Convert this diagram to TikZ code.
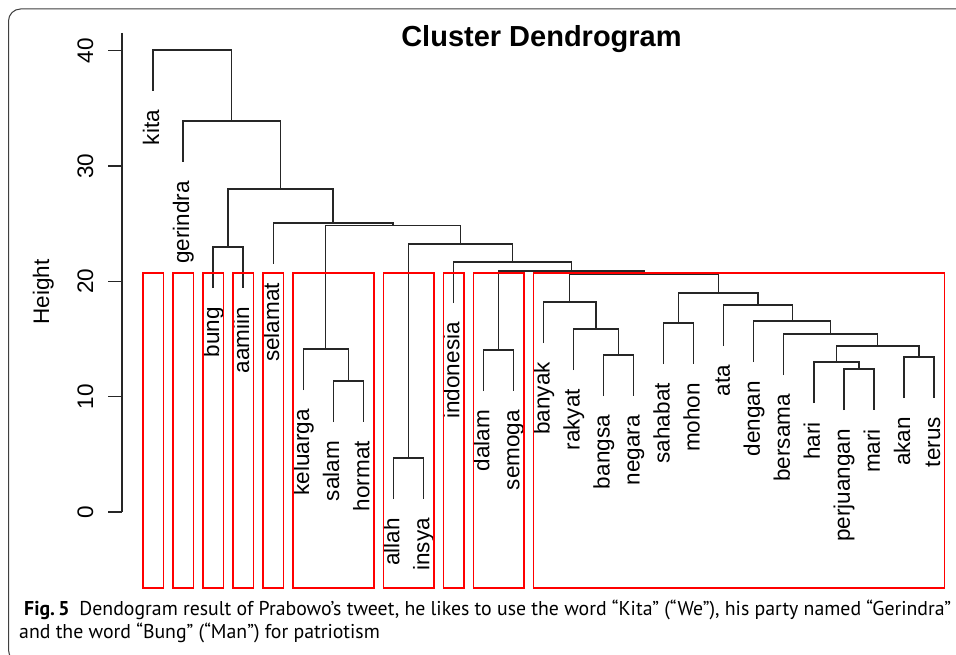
\documentclass[tikz,border=0pt]{standalone}
\usepackage{fontspec}
\setmainfont{Liberation Sans}
\newfontfamily\capfont{PT Sans}
\usepackage{graphicx}
\newlength\capwd
\newcommand\capone{\fontsize{20}{24}\capfont\textbf{Fig.\,5}\enspace Dendogram result of Prabowo’s tweet, he likes to use the word “Kita” (“We”), his party named “Gerindra”}
\newcommand\captwo{\fontsize{20}{24}\capfont and the word “Bung” (“Man”) for patriotism}
\begin{document}
\settowidth\capwd{\capone}%
\pgfmathsetmacro\capsx{927/\capwd}%
\begin{tikzpicture}[x=1pt,y=-1pt,
  dend/.style={draw=black!85, line width=1.3pt},
  axisline/.style={draw=black!85, line width=1.3pt},
  clbox/.style={draw=red, line width=1.5pt},
  framebox/.style={draw=black!75, line width=1pt, rounded corners=12pt},
  leaflab/.style={rotate=90, anchor=base east, inner sep=0pt, font=\fontsize{22.5}{24}\selectfont},
  ticklab/.style={rotate=90, anchor=base, inner sep=0pt, font=\fontsize{22.5}{24}\selectfont},
  caplab/.style={anchor=base west, inner sep=0pt},
]
\useasboundingbox (0,0) rectangle (956,655);
\clip (0,0) rectangle (956,655);
\fill[white] (0,0) rectangle (956,655);
% frame
\draw[framebox] (8.5,9) rectangle (1000,662);

% title
\node[anchor=base, inner sep=0pt, font=\fontsize{29}{32}\selectfont\bfseries] (title) at (541.5,47) {Cluster Dendrogram};

% y axis
\draw[axisline] (122,33) -- (122,512);
\foreach \h in {0,10,20,30,40} {
  \draw[axisline] (108,{512-11.53*\h}) -- (122,{512-11.53*\h});
  \node[ticklab] (tick\h) at (93,{512-11.53*\h}) {\h};
}
\node[ticklab] (ylab) at (49,292) {Height};

% leaves
\foreach \i/\w/\p in {1/kita/50, 2/gerindra/121, 3/bung/247, 4/aamiin/247,
  5/selamat/223, 6/keluarga/349, 7/salam/381, 8/hormat/381, 9/allah/458,
  10/insya/458, 11/indonesia/262, 12/dalam/350, 13/semoga/350, 14/banyak/302,
  15/rakyat/329, 16/bangsa/355, 17/negara/355, 18/sahabat/323, 19/mohon/323,
  20/ata/305, 21/dengan/321, 22/bersama/334, 23/hari/362, 24/perjuangan/369,
  25/mari/369, 26/akan/357, 27/terus/357} {
  \coordinate (L\i) at ({153+(\i-1)*30.04},{\p+41});
  \node[leaflab] (T\i) at ([xshift=6pt,yshift=-19pt]L\i) {\w};
}

% merge points
\coordinate (R)  at (192.41,50);
\coordinate (A)  at (231.82,121);
\coordinate (B)  at (280.6,189);
\coordinate (C)  at (228.1,247);
\coordinate (D1) at (333.1,223);
\coordinate (D2) at (393.04,225.5);
\coordinate (K)  at (325.73,349);
\coordinate (SH) at (348.26,381);
\coordinate (E)  at (460.34,244);
\coordinate (AI) at (408.34,458);
\coordinate (E2) at (512.34,262);
\coordinate (F)  at (571.28,271);
\coordinate (DS) at (498.46,350);
\coordinate (G)  at (644.09,274);
\coordinate (BY) at (569.81,302);
\coordinate (RK) at (596.09,329);
\coordinate (BN) at (618.62,355);
\coordinate (H)  at (718.37,293);
\coordinate (SM) at (678.7,323);
\coordinate (I)  at (758.03,305);
\coordinate (J)  at (792.29,321);
\coordinate (Kq) at (830.78,334);
\coordinate (Lq) at (877.72,346);
\coordinate (Mq) at (836.41,362);
\coordinate (PM) at (858.94,369);
\coordinate (AT) at (919.02,357);

\foreach \m/\a/\b in {R/L1/A, A/L2/B, B/C/D1, C/L3/L4, D1/L5/D2, D2/K/E,
  K/L6/SH, SH/L7/L8, E/AI/E2, AI/L9/L10, E2/L11/F, F/DS/G, DS/L12/L13,
  G/BY/H, BY/L14/RK, RK/L15/BN, BN/L16/L17, H/SM/I, SM/L18/L19, I/L20/J,
  J/L21/Kq, Kq/L22/Lq, Lq/Mq/AT, Mq/L23/PM, PM/L24/L25, AT/L26/L27} {
  \draw[dend] (\a) |- (\m) -| (\b);
}

% cluster boxes
\foreach \f/\l in {1/1, 2/2, 3/3, 4/4, 5/5, 6/8, 9/10, 11/11, 12/13, 14/27} {
  \draw[clbox] ({153+(\f-1)*30.04-10},273) rectangle ({153+(\l-1)*30.04+10.5},588);
}

% caption
\node[caplab] (cap1) at (24,615) {\scalebox{\capsx}[1]{\capone}};
\node[caplab] (cap2) at (19,638) {\scalebox{\capsx}[1]{\captwo}};
\end{tikzpicture}
\end{document}
